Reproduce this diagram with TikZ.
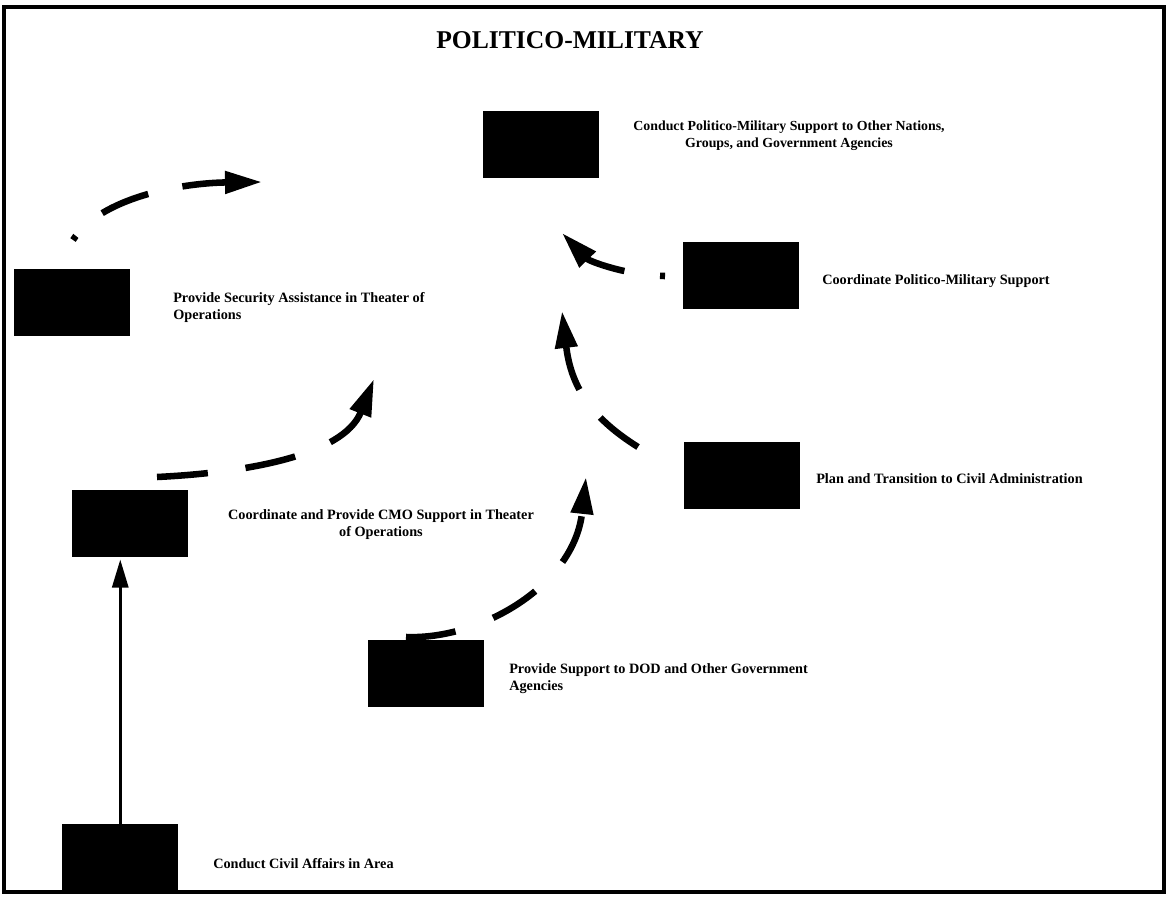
\documentclass[tikz,border=0pt]{standalone}
\usepackage{fontspec}
\setmainfont{Liberation Serif}
\usetikzlibrary{arrows.meta}
\begin{document}
\begin{tikzpicture}[x=0.75pt,y=-0.75pt,
  blk/.style={fill=black, draw=none, inner sep=0pt, minimum width=87pt, minimum height=50.25pt, anchor=north west},
  lbl/.style={inner sep=0pt, font=\bfseries\fontsize{10.7}{12.8}\selectfont, text=black},
  dasharrow/.style={line width=4.9pt, -{Triangle[length=27.75pt,width=16.1pt]}},
  solidarrow/.style={line width=2.25pt, -{Triangle[length=21pt,width=12pt]}}]
\useasboundingbox (0,0) rectangle (1167,898);
\draw[line width=3.2pt] (4,7) rectangle (1164,892);
\node[anchor=north, inner sep=0pt, font=\bfseries\fontsize{19.2}{23}\selectfont] (title) at (570,31.2) {POLITICO-MILITARY};
% boxes
\node[blk] (A) at (483,111) {};
\node[blk] (B) at (14,269) {};
\node[blk] (C) at (683,242) {};
\node[blk] (D) at (684,442) {};
\node[blk] (E) at (72,490) {};
\node[blk] (F) at (368,640) {};
\node[blk] (G) at (62,824) {};
% labels
\node[lbl, font=\bfseries\fontsize{10.4}{12.6}\selectfont, anchor=north, align=center] (tA) at (789,120.6) {Conduct Politico-Military Support to Other Nations,\\Groups, and Government Agencies};
\node[lbl, anchor=north west, align=left] (tB) at (173,292.3) {Provide Security Assistance in Theater of\\Operations};
\node[lbl, anchor=north west] (tC) at (822,274.3) {Coordinate Politico-Military Support};
\node[lbl, anchor=north west] (tD) at (816,473.3) {Plan and Transition to Civil Administration};
\node[lbl, anchor=north, align=center] (tE) at (381,509.3) {Coordinate and Provide CMO Support in Theater\\of Operations};
\node[lbl, anchor=north west, align=left] (tF) at (509,663.3) {Provide Support to DOD and Other Government\\Agencies};
\node[lbl, anchor=north west] (tG) at (213,858.3) {Conduct Civil Affairs in Area};
% connector end points
\coordinate (a1s) at (73,240);   \coordinate (a1e) at (262,182);
\coordinate (a2s) at (157,477);  \coordinate (a2e) at (374,379);
\coordinate (a3s) at (406,637);  \coordinate (a3e) at (586,477);
\coordinate (a4s) at (638,447);  \coordinate (a4e) at (562,311);
\coordinate (a5s) at (665,276);  \coordinate (a5e) at (562,233);
% dashed arrows
\draw[dasharrow, dash pattern=on 37.5pt off 26.25pt, dash phase=33.75pt] (a1s) .. controls (100,198) and (180,183) .. (a1e);
\draw[dasharrow, dash pattern=on 38.25pt off 28.5pt] (a2s) .. controls (240,473) and (343,457) .. (a2e);
\draw[dasharrow, dash pattern=on 37.5pt off 30pt] (a3s) .. controls (480,640) and (574,586) .. (a3e);
\draw[dasharrow, dash pattern=on 36pt off 26.25pt] (a4s) .. controls (595,420) and (571.4,390.4) .. (a4e);
\draw[dasharrow, dash pattern=on 33.75pt off 27pt, dash phase=30pt] (a5s) .. controls (630,276) and (589.8,261.8) .. (a5e);
% solid arrow
\draw[solidarrow, shorten >=1.5pt] (G.north) -- (G.north |- E.south);
\end{tikzpicture}
\end{document}
